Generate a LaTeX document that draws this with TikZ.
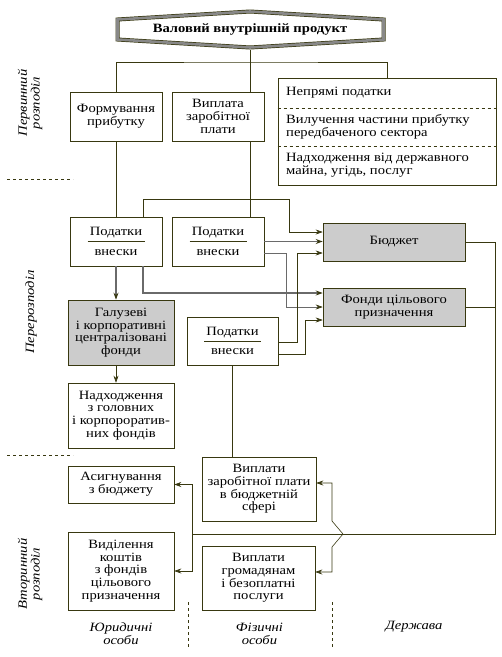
\documentclass[tikz,border=0pt]{standalone}
\usepackage{fontspec}
\setmainfont{Liberation Serif}[FakeStretch=1.15]
\usepackage{tikz}
\usetikzlibrary{arrows.meta, positioning, calc}
\definecolor{ink}{HTML}{383810}
\definecolor{boxgray}{HTML}{CCCCCC}
\definecolor{linegray}{HTML}{6A6A6A}
\newcommand{\diagfont}{\fontsize{12.7}{12.7}\selectfont}
\tikzset{
  box/.style={
    rectangle, draw=ink, fill=white, inner sep=1pt,
    align=center, font=\diagfont, line width=0.6pt
  },
  graybox/.style={box, fill=boxgray},
  link/.style={draw=ink, line width=0.6pt},
  arrow/.style={-{Stealth[length=7pt,width=5pt,color=ink]}, draw=ink, line width=0.6pt},
  grayarrow/.style={arrow, draw=linegray, line width=1.1pt},
  sidelabel/.style={rotate=90, font=\diagfont\itshape, align=center, inner sep=0pt},
  footlabel/.style={font=\diagfont\itshape, align=center, inner sep=0pt},
  sep/.style={dashed, draw=ink, line width=0.6pt},
}
\begin{document}
\begin{tikzpicture}[x=1pt, y=-1pt]
  \useasboundingbox (0,0) rectangle (502,657);

  % headline
  \draw[draw=ink, line width=0.7pt, double=linegray!80, double distance=2.6pt]
    (117.5,19.5) -- (250,11.5) -- (383.5,19.5) -- (383.5,39.5) -- (250,47.5) -- (117.5,39.5) -- cycle;
  \node[inner sep=0pt, minimum width=271pt, minimum height=41pt, font=\diagfont\bfseries]
    (gdp) at (250,29.5) {Валовий внутрішній продукт};

  % primary distribution
  \node[box, minimum width=92pt, minimum height=49pt] (form) at (116,116.5) {Формування\\прибутку};
  \node[box, minimum width=92pt, minimum height=49pt] (vypl) at (218,116.5) {Виплата\\заробітної\\плати};
  \node[box, minimum width=218pt, minimum height=107pt] (indirect) at (387,131.5) {};
  \draw[sep] (indirect.west |- 0,108) -- (indirect.east |- 0,108);
  \draw[sep] (indirect.west |- 0,146) -- (indirect.east |- 0,146);
  \node[font=\diagfont, anchor=west, align=left, inner sep=0pt] (ind1) at (286,93) {Непрямі податки};
  \node[font=\diagfont, anchor=west, align=left, inner sep=0pt] (ind2) at (286,127) {Вилучення частини прибутку\\передбаченого сектора};
  \node[font=\diagfont, anchor=west, align=left, inner sep=0pt] (ind3) at (286,165) {Надходження від державного\\майна, угідь, послуг};

  % redistribution
  \node[box, minimum width=92pt, minimum height=49pt] (tax1) at (116,241.5) {Податки\\[7pt]внески};
  \node[box, minimum width=92pt, minimum height=49pt] (tax2) at (218,241.5) {Податки\\[7pt]внески};
  \node[box, minimum width=91pt, minimum height=48pt] (tax3) at (232.5,341) {Податки\\[7pt]внески};
  \foreach \t in {tax1,tax2,tax3}
    \draw[link] ([xshift=-28.5pt]\t.center) -- ([xshift=28.5pt]\t.center);
  \node[graybox, minimum width=142pt, minimum height=38pt] (budget) at (394,242) {Бюджет};
  \node[graybox, minimum width=142pt, minimum height=38pt] (funds) at (394,307) {Фонди цільового\\призначення};
  \node[graybox, minimum width=106pt, minimum height=65pt] (galuz) at (121,332.5) {Галузеві\\і корпоративні\\централізовані\\фонди};
  \node[box, minimum width=106pt, minimum height=65pt] (nadh) at (121,415.5) {Надходження\\з головних\\і корпороратив-\\них фондів};

  % secondary distribution
  \node[box, minimum width=106pt, minimum height=37pt] (asyg) at (121,484.5) {Асигнування\\з бюджету};
  \node[box, minimum width=114pt, minimum height=64pt] (zarpl) at (259,489) {Виплати\\заробітної плати\\в бюджетній\\сфері};
  \node[box, minimum width=106pt, minimum height=78pt] (vydil) at (121,571) {Виділення\\коштів\\з фондів\\цільового\\призначення};
  \node[box, minimum width=113pt, minimum height=64pt] (hrom) at (258.5,578) {Виплати\\громадянам\\і безоплатні\\послуги};

  \coordinate (split) at (250,62);
  \coordinate (rt) at (495,534);
  \coordinate (lt) at (192,534);
  \coordinate (br) at (343,534);

  % tree from the headline
  \draw[link] (gdp.south) -- (gdp.south |- vypl.north);
  \draw[link] (form.north) |- (split) -| (indirect.north);
  \draw[link] (form.south) -- (tax1.north);
  \draw[link] (gdp.south |- vypl.south) -- (gdp.south |- tax2.north);

  % taxes and contributions
  \draw[arrow] ([xshift=27pt]tax1.north) |- (289,199) |- ([yshift=10pt]budget.west);
  \draw[grayarrow] (tax2.east) -- (tax2.east -| budget.west);
  \draw[arrow, draw=linegray] ([yshift=-11.5pt]tax2.east) -- ++(22,0) |- (funds.west);
  \draw[grayarrow] ([xshift=27pt]tax1.south) |- ([yshift=14pt]funds.west);
  \draw[grayarrow] (tax1.south) -- (tax1.south |- galuz.north);
  \draw[arrow] ([yshift=-1pt]tax3.east) -- ++(19,0) |- ([yshift=-11pt]budget.west);
  \draw[arrow] ([yshift=-13pt]tax3.east) -- ++(27,0) |- ([yshift=-13pt]funds.west);
  \draw[arrow] (tax1.south |- galuz.south) -- (tax1.south |- nadh.north);
  \draw[link] (tax3.south) -- (tax3.south |- zarpl.north);

  % from budget and funds
  \draw[link] (budget.east) -| (rt) -- (lt);
  \draw[link] (funds.east) -- (funds.east -| rt);
  \draw[arrow] (lt) |- (asyg.east);
  \draw[arrow] (lt) |- (vydil.east);
  \draw[arrow] (br) -- ++(-11,-13) |- ([yshift=6pt]zarpl.east);
  \draw[arrow] (br) -- ++(-11,13) |- ([yshift=6pt]hrom.east);

  % separators
  \draw[sep] (7,179) -- (73,179);
  \draw[sep] (7,455) -- (73,455);
  \draw[sep] (188,602) -- (188,647);
  \draw[sep] (332,602) -- (332,647);

  % side and foot labels
  \node[sidelabel] (lprim) at (30,103) {Первинний\\розподіл};
  \node[sidelabel] (lredis) at (31,312) {Перерозподіл};
  \node[sidelabel] (lsec) at (30,574) {Вторинний\\розподіл};
  \node[footlabel] (legal) at (121,634) {Юридичні\\особи};
  \node[footlabel] (phys) at (259.5,634) {Фізичні\\особи};
  \node[footlabel] (state) at (414,627) {Держава};
\end{tikzpicture}
\end{document}
